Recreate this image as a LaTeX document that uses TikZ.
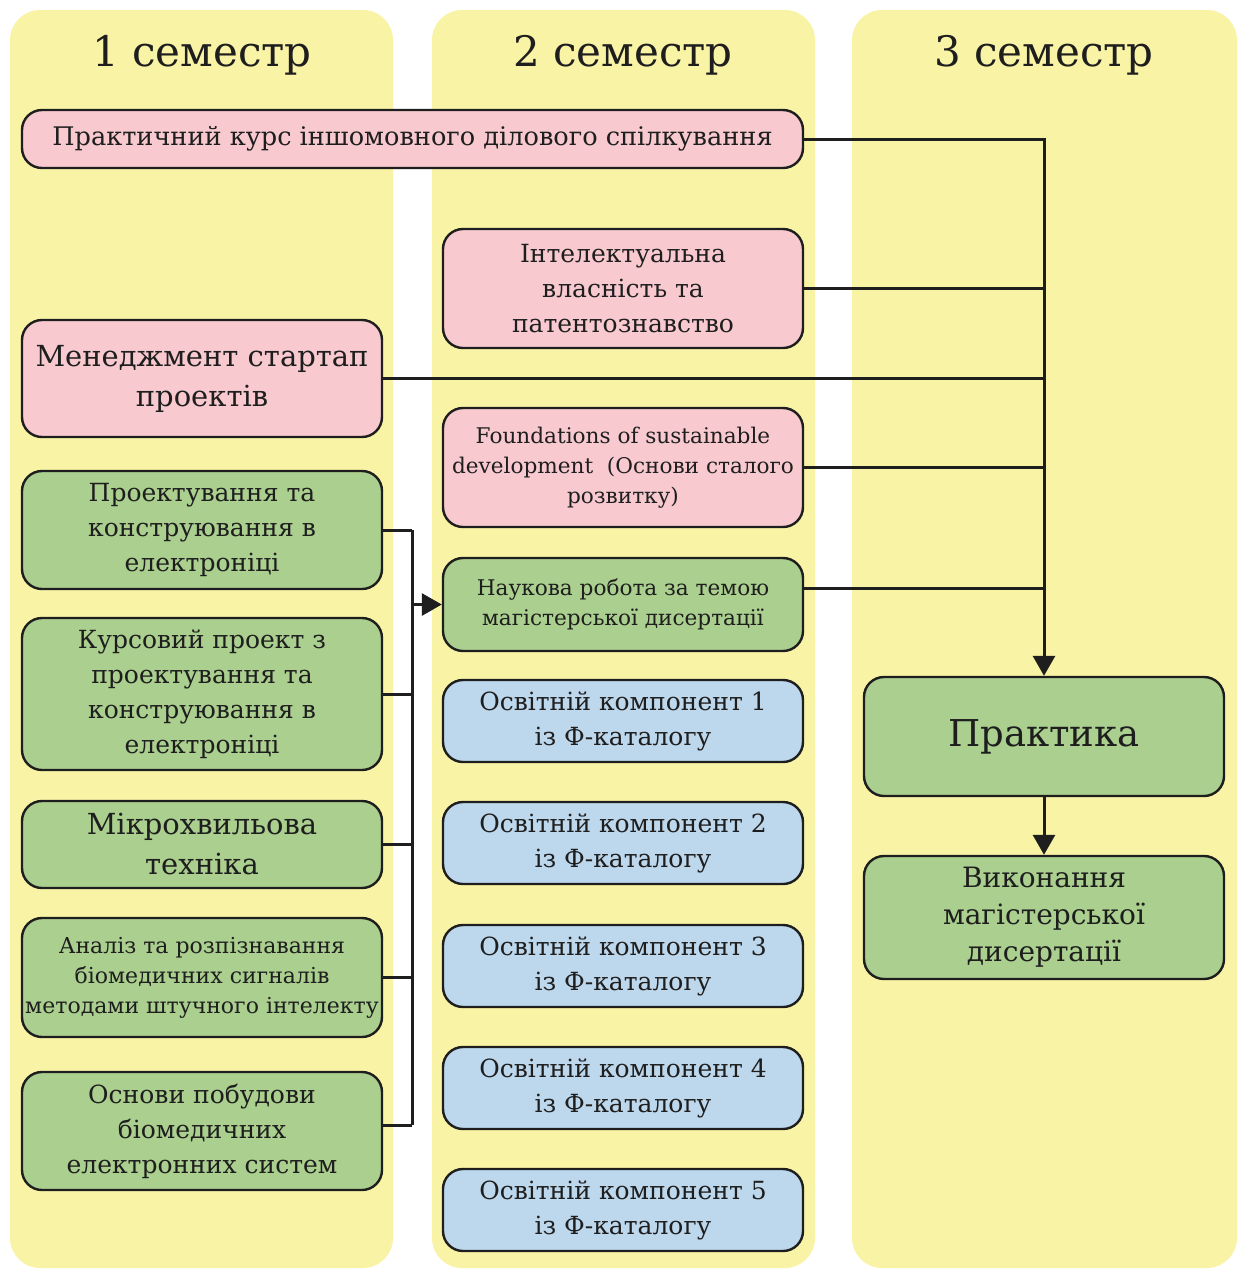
\documentclass[tikz,border=0pt]{standalone}
\usepackage{fontspec}
\setmainfont{DejaVu Serif}
\usetikzlibrary{arrows.meta, positioning}
\definecolor{colyellow}{RGB}{249,243,166}
\definecolor{boxpink}{RGB}{248,202,208}
\definecolor{boxgreen}{RGB}{170,207,142}
\definecolor{boxblue}{RGB}{189,215,236}
\definecolor{inkdark}{RGB}{30,30,30}

\begin{document}
\begin{tikzpicture}[
                x=0.5pt, y=-0.5pt,
                semcolumn/.style={fill=colyellow, rounded corners=15pt},
                semtitle/.style={font=\fontsize{21}{24}\selectfont, text=inkdark},
                basebox/.style={shape=rectangle, rounded corners=10pt, draw=inkdark, line width=1.2pt,
                                align=center, inner sep=1pt, text=inkdark,
                                minimum width=180pt, font=\fontsize{12.5}{17.5}\selectfont},
                pinkbox/.style={basebox, fill=boxpink},
                greenbox/.style={basebox, fill=boxgreen},
                bluebox/.style={basebox, fill=boxblue, minimum height=41pt},
                smalltext/.style={font=\fontsize{10.8}{15}\selectfont},
                bigtext/.style={font=\fontsize{14.5}{20}\selectfont},
                link/.style={draw=inkdark, line width=1.5pt},
                arr/.style={link, -{Triangle[length=10pt, width=11pt]}}
                ]
                \useasboundingbox (0,0) rectangle (1240,1271);

                %% Columns
                \fill[semcolumn] (10,10) rectangle (393,1268);
                \fill[semcolumn] (432,10) rectangle (815,1268);
                \fill[semcolumn] (852,10) rectangle (1237,1268);
                \node[semtitle] (sem1) at (202,55) {1 семестр};
                \node[semtitle] (sem2) at (623,55) {2 семестр};
                \node[semtitle] (sem3) at (1044,55) {3 семестр};

                %% Pink boxes
                \node[pinkbox, minimum width=390.5pt, minimum height=29pt, font=\fontsize{12.8}{17.5}\selectfont] (kurs) at (412.5,139)
                    {Практичний курс іншомовного ділового спілкування};
                \node[pinkbox, minimum height=59.5pt] (intel) at (623,288.5)
                    {Інтелектуальна\\власність та\\патентознавство};
                \node[pinkbox, bigtext, minimum height=58.5pt] (menedzh) at (202,378.5)
                    {Менеджмент стартап\\проектів};
                \node[pinkbox, smalltext, minimum height=59.5pt] (found) at (623,467.5)
                    {Foundations of sustainable\\development~~(Основи сталого\\розвитку)};

                %% Green boxes, 1st semester
                \node[greenbox, minimum height=59pt] (proekt) at (202,530)
                    {Проектування та\\конструювання в\\електроніці};
                \node[greenbox, minimum height=76pt] (kursovyi) at (202,694)
                    {Курсовий проект з\\проектування та\\конструювання в\\електроніці};
                \node[greenbox, bigtext, minimum height=43.5pt] (mikro) at (202,844.5)
                    {Мікрохвильова\\техніка};
                \node[greenbox, font=\fontsize{11}{15}\selectfont, minimum height=59.5pt] (analiz) at (202,977.5)
                    {Аналіз та розпізнавання\\біомедичних сигналів\\методами штучного інтелекту};
                \node[greenbox, minimum height=59pt] (osnovy) at (202,1131)
                    {Основи побудови\\біомедичних\\електронних систем};

                %% 2nd semester
                \node[greenbox, smalltext, minimum height=46.5pt] (nauk) at (623,604.5)
                    {Наукова робота за темою\\магістерської дисертації};
                \foreach \i/\yy in {1/721, 2/843, 3/966, 4/1088, 5/1210}
                    \node[bluebox] (ok\i) at (623,\yy) {Освітній компонент \i\\із Ф-каталогу};

                %% 3rd semester
                \node[greenbox, minimum height=59.5pt, font=\fontsize{18.5}{22}\selectfont] (praktyka) at (1044,736.5)
                    {Практика};
                \node[greenbox, font=\fontsize{14}{18.5}\selectfont, minimum height=61.5pt] (vykon) at (1044,917.5)
                    {Виконання\\магістерської\\дисертації};

                %% Links to practice
                \draw[arr] (kurs.east) -| (praktyka.north);
                \draw[link] (intel.east) -- (intel.east -| praktyka.north);
                \draw[link] (menedzh.east) -- (menedzh.east -| praktyka.north);
                \draw[link] (found.east) -- (found.east -| praktyka.north);
                \draw[link] ([yshift=8pt]nauk.east) -- ([yshift=8pt]nauk.east -| praktyka.north);
                \draw[arr] (praktyka.south) -- (vykon.north);

                %% Bus of 1st semester
                \coordinate (bus) at (412,0);
                \draw[link] (proekt.east) -- (proekt.east -| bus);
                \draw[link] (kursovyi.east) -- (kursovyi.east -| bus);
                \draw[link] (mikro.east) -- (mikro.east -| bus);
                \draw[link] (analiz.east) -- (analiz.east -| bus);
                \draw[link] ([yshift=3pt]osnovy.east) -- ([yshift=3pt]osnovy.east -| bus);
                \draw[link] (proekt.east -| bus) -- ([yshift=3pt]osnovy.east -| bus);
                \draw[arr] (nauk.west -| bus) -- (nauk.west);
\end{tikzpicture}
\end{document}
